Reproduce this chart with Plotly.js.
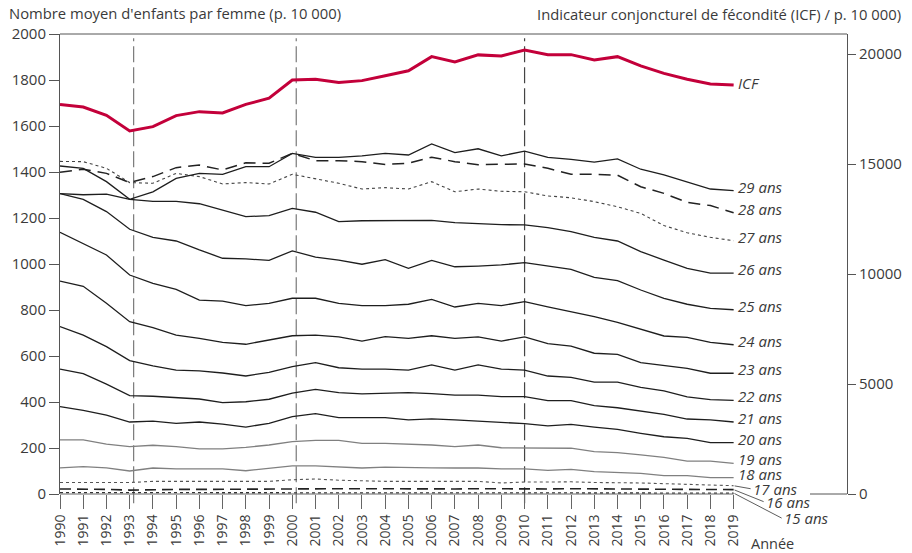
<!DOCTYPE html>
<html>
<head>
<meta charset="utf-8">
<script src="https://cdn.plot.ly/plotly-3.0.1.min.js"></script>
<style>html,body{margin:0;padding:0;background:#fff;}#chart{width:912px;height:553px;}</style>
</head>
<body>
<div id="chart"></div>
<script>
// ---- DATA ----
const years = [1990,1991,1992,1993,1994,1995,1996,1997,1998,1999,2000,2001,2002,2003,2004,2005,2006,2007,2008,2009,2010,2011,2012,2013,2014,2015,2016,2017,2018,2019];
const icf = [17710,17590,17210,16500,16700,17200,17380,17320,17710,17990,18820,18850,18700,18790,19010,19240,19880,19640,19960,19910,20180,19970,19970,19730,19880,19460,19120,18850,18640,18590];
const ans29 = [1426,1416,1358,1281,1314,1372,1394,1390,1423,1423,1481,1464,1464,1470,1481,1474,1522,1484,1501,1470,1491,1464,1455,1443,1457,1412,1387,1358,1326,1319];
const ans28 = [1399,1412,1394,1354,1380,1419,1430,1409,1440,1438,1481,1449,1449,1445,1433,1438,1464,1445,1432,1432,1435,1416,1390,1390,1386,1336,1307,1268,1254,1223];
const ans27 = [1446,1445,1416,1354,1351,1394,1380,1348,1354,1348,1390,1370,1351,1326,1332,1326,1358,1314,1326,1316,1314,1296,1288,1271,1249,1220,1167,1136,1116,1101];
const ans26 = [1306,1301,1304,1281,1272,1272,1262,1235,1206,1210,1242,1225,1184,1188,1188,1190,1190,1180,1175,1171,1170,1158,1141,1116,1100,1054,1017,981,960,960];
const ans25 = [1306,1281,1228,1151,1116,1100,1061,1025,1022,1016,1057,1030,1017,999,1019,981,1016,988,991,996,1006,991,977,942,928,887,851,825,807,801];
const ans24 = [1138,1090,1039,952,916,890,843,839,819,829,851,851,829,819,819,825,846,813,829,819,836,814,793,771,746,716,687,681,659,649];
const ans23 = [926,903,829,749,723,691,677,659,651,668,688,691,683,665,684,677,688,677,683,665,683,654,643,612,607,571,558,546,525,525];
const ans22 = [728,691,641,580,557,539,535,526,513,529,554,571,549,543,543,539,561,539,561,543,539,513,507,486,486,464,448,422,410,407];
const ans21 = [543,523,478,428,425,420,413,397,401,412,439,455,441,435,439,441,436,430,430,423,423,406,406,384,375,362,346,326,322,313];
const ans20 = [380,364,343,313,317,307,313,304,291,307,336,349,332,332,332,322,327,322,317,310,306,296,303,291,281,264,249,242,223,223];
const ans19 = [235,235,217,206,212,206,196,196,203,213,228,233,233,220,220,217,213,206,213,201,201,199,199,184,180,170,159,143,143,133];
const ans18 = [114,119,114,100,113,109,109,109,101,112,122,122,117,113,117,117,114,113,113,109,109,103,107,97,94,90,80,80,71,71];
const ans17 = [50,50,50,50,55,55,55,55,52,55,62,65,60,56,55,55,55,55,55,48,52,52,53,50,50,48,45,42,38,36];
const ans16 = [22,22,20,17,20,20,20,21,21,21,22,23,23,23,22,21,22,22,23,22,22,22,23,22,22,21,21,20,19,19];
const ans15 = [6,6,5,5,5,5,5,5,5,5,6,6,6,5,5,5,5,5,5,5,5,5,5,5,5,4,4,4,4,4];
const ageLabels = ['15 ans','16 ans','17 ans','18 ans','19 ans','20 ans','21 ans','22 ans','23 ans','24 ans','25 ans','26 ans','27 ans','28 ans','29 ans'];
const breakYears = [1993.17, 2000.17, 2010];
const leftTicks = [0,200,400,600,800,1000,1200,1400,1600,1800,2000];
const rightTicks = [0,5000,10000,15000,20000];

// ---- STYLES ----
const ageSeries = [ans15,ans16,ans17,ans18,ans19,ans20,ans21,ans22,ans23,ans24,ans25,ans26,ans27,ans28,ans29];
const styleFor = (lab) => {
  if (lab === '15 ans') return {color:'#333', width:1.3, dash:'dot'};
  if (lab === '16 ans') return {color:'#222', width:1.6, dash:'11px,6px'};
  if (lab === '17 ans') return {color:'#555', width:1.1, dash:'3px,3px'};
  if (lab === '18 ans' || lab === '19 ans') return {color:'#808080', width:1.3, dash:'solid'};
  if (lab === '27 ans') return {color:'#444', width:1.1, dash:'dot'};
  if (lab === '28 ans') return {color:'#222', width:1.5, dash:'12px,7px'};
  return {color:'#1e1e1e', width:1.3, dash:'solid'};
};

const traces = ageSeries.map((s, i) => ({
  x: years, y: s, type:'scatter', mode:'lines', name: ageLabels[i],
  line: styleFor(ageLabels[i]), hoverinfo:'skip'
}));
traces.push({x: years, y: icf, type:'scatter', mode:'lines', name:'ICF', yaxis:'y2',
  line:{color:'#c3003a', width:3}, hoverinfo:'skip'});

const FONT = '"Open Sans", "Noto Sans", sans-serif';
const TXT = '#3a3a3a';
const last = (arr) => arr[arr.length-1];
const lastYear = last(years);

const annotations = [];
ageLabels.forEach((lab, i) => {
  const v = last(ageSeries[i]);
  if (lab === '17 ans' || lab === '16 ans' || lab === '15 ans') {
    const off = {'17 ans':[17,3], '16 ans':[30,12], '15 ans':[48,25]}[lab];
    annotations.push({x:lastYear, y:v, xref:'x', yref:'y', text:'<i>'+lab+'</i>',
      showarrow:true, arrowhead:0, arrowwidth:0.8, arrowcolor:'#333', standoff:1,
      ax:off[0], ay:off[1], xanchor:'left', yanchor:'middle',
      font:{family:FONT, size:15, color:TXT}});
  } else {
    annotations.push({x:lastYear, y:v, xref:'x', yref:'y', text:'<i>'+lab+'</i>',
      showarrow:false, xanchor:'left', yanchor:'middle', xshift:2, yshift:4,
      font:{family:FONT, size:15, color:TXT}});
  }
});
annotations.push({x:lastYear, y:last(icf), xref:'x', yref:'y2', text:'<i>ICF</i>',
  showarrow:false, xanchor:'left', yanchor:'middle', xshift:2, yshift:2,
  font:{family:FONT, size:15, color:TXT}});
annotations.push({xref:'paper', yref:'paper', x:-0.0675, y:1.046, xanchor:'left', yanchor:'middle',
  text:"Nombre moyen d'enfants par femme (p. 10 000)", showarrow:false,
  font:{family:FONT, size:14.8, color:TXT}});
annotations.push({xref:'paper', yref:'paper', x:1.0712, y:1.044, xanchor:'right', yanchor:'middle',
  text:"Indicateur conjoncturel de fécondité (ICF) / p. 10 000)", showarrow:false,
  font:{family:FONT, size:14.8, color:TXT}});
annotations.push({xref:'paper', yref:'paper', x:0.876, y:-0.107, xanchor:'left', yanchor:'middle',
  text:"Année", showarrow:false, font:{family:FONT, size:14.5, color:TXT}});

const shapes = [];
shapes.push({type:'line', xref:'paper', yref:'paper', x0:0, x1:1, y0:1, y1:1, line:{color:'#555', width:1}});
shapes.push({type:'line', xref:'x', yref:'paper', x0:years[0], x1:lastYear, y0:0, y1:0, line:{color:'#666', width:1}});
shapes.push({type:'line', xref:'paper', yref:'paper', x0:0.953, x1:1, y0:0, y1:0, line:{color:'#555', width:1}});
breakYears.forEach((b, i) => {
  shapes.push({type:'line', xref:'x', yref:'paper', x0:b, x1:b, y0:-0.02, y1:0.991,
    line:{color: i < 2 ? '#7a7a7a' : '#444', width:1.2, dash:'16px,5px'}, layer:'below'});
});

const layout = {
  width:912, height:553,
  margin:{l:60, r:65, t:34, b:59, pad:0},
  paper_bgcolor:'#fff', plot_bgcolor:'#fff',
  showlegend:false,
  font:{family:FONT, color:TXT, size:14},
  xaxis:{range:[1990, 2023.88], tickvals:years, ticktext:years.map(String), tickangle:-90,
    ticks:'outside', ticklen:14, tickwidth:1, tickcolor:'#666', showline:false, showgrid:false,
    zeroline:false, tickfont:{family:FONT, size:14, color:TXT}},
  yaxis:{range:[0,2000], tickvals:leftTicks, ticktext:leftTicks.map(String), ticks:'outside', ticklen:10, tickwidth:1, tickcolor:'#555',
    showline:true, linecolor:'#555', linewidth:1, showgrid:false, zeroline:false,
    tickfont:{family:FONT, size:15, color:TXT}},
  yaxis2:{range:[0,20909], overlaying:'y', side:'right', tickvals:rightTicks, ticktext:rightTicks.map(String),
    ticks:'outside', ticklen:8,
    tickwidth:1, tickcolor:'#555', showline:true, linecolor:'#555', linewidth:1, showgrid:false, zeroline:false,
    tickfont:{family:FONT, size:15, color:TXT}},
  annotations: annotations,
  shapes: shapes
};

Plotly.newPlot('chart', traces, layout, {displayModeBar:false, staticPlot:true});
</script>
</body>
</html>
